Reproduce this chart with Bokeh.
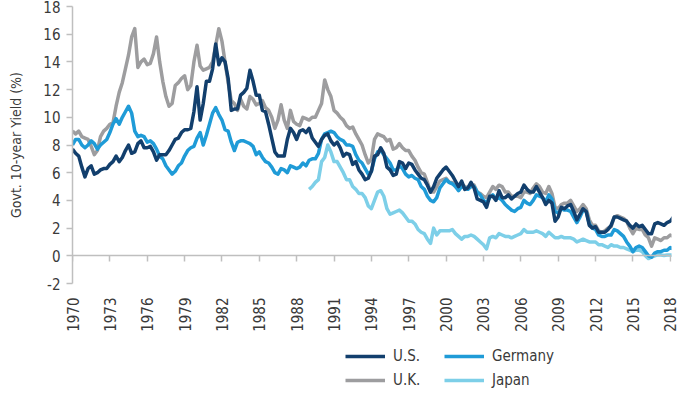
import math
from bokeh.plotting import figure
from bokeh.layouts import column
from bokeh.models import (Range1d, LinearAxis, FixedTicker, Legend, LegendItem,
                          ColumnDataSource)
from bokeh.embed import file_html
from bokeh.resources import INLINE

# ---------------- data (quarterly, Govt. 10-year yields, %) ----------------
start_year = 1970
tick_years = [1970, 1973, 1976, 1979, 1982, 1985, 1988, 1991, 1994, 1997,
              2000, 2003, 2006, 2009, 2012, 2015, 2018]
y_ticks = [-2, 0, 2, 4, 6, 8, 10, 12, 14, 16, 18]

us = [7.7, 7.4, 7.2, 6.4,   5.7, 6.3, 6.5, 5.9,   6.0, 6.2, 6.3, 6.3,   6.6, 6.8, 7.2, 6.8,
      7.1, 7.6, 8.0, 7.4,   7.5, 8.1, 8.3, 7.8,   7.8, 7.9, 7.5, 6.9,   7.3, 7.3, 7.3, 7.6,
      8.0, 8.4, 8.5, 8.9,   9.1, 9.1, 9.2, 10.4,  12.2, 9.8, 11.0, 12.6, 12.6, 13.5, 15.3, 13.8,
      14.3, 14.0, 12.8, 10.5, 10.6, 10.6, 11.6, 11.8, 12.1, 13.4, 12.6, 11.6, 11.6, 10.5, 10.4, 9.5,
      8.5, 7.5, 7.2, 7.2,   7.2, 8.4, 9.2, 8.9,   8.4, 9.0, 9.1, 8.9,   9.2, 8.5, 8.2, 7.9,
      8.4, 8.7, 8.8, 8.3,   8.0, 8.2, 7.8, 7.2,   7.4, 7.3, 6.6, 6.8,   6.2, 5.9, 5.5, 5.6,
      6.1, 7.2, 7.3, 7.8,   7.4, 6.4, 6.2, 5.8,   5.9, 6.8, 6.7, 6.3,   6.7, 6.6, 6.2, 5.9,
      5.6, 5.5, 5.1, 4.6,   5.0, 5.6, 5.9, 6.2,   6.4, 6.1, 5.8, 5.4,   5.0, 5.4, 4.8, 4.9,
      5.3, 4.9, 4.1, 4.0,   3.9, 3.5, 4.3, 4.3,   4.0, 4.7, 4.2, 4.2,   4.4, 4.1, 4.3, 4.5,
      4.6, 5.1, 4.8, 4.6,   4.6, 5.0, 4.6, 4.2,   3.7, 4.0, 3.8, 2.5,   2.8, 3.5, 3.4, 3.6,
      3.7, 3.2, 2.6, 3.0,   3.4, 3.2, 2.2, 2.0,   2.1, 1.7, 1.7, 1.7,   1.9, 2.2, 2.8, 2.8,
      2.7, 2.6, 2.5, 2.2,   2.0, 2.3, 2.1, 2.2,   1.9, 1.6, 1.6, 2.3,   2.4, 2.3, 2.2, 2.4,
      2.5, 2.8, 2.7]

uk = [9.0, 8.8, 9.0, 8.6,   8.5, 8.4, 7.9, 7.3,   7.6, 8.6, 9.0, 9.2,   9.5, 9.6, 10.8, 11.8,
      12.5, 13.5, 14.5, 15.8, 16.4, 13.6, 14.0, 14.2, 13.8, 13.9, 14.6, 15.8, 14.0, 12.6, 11.5, 10.8,
      11.0, 12.3, 12.5, 12.8, 13.0, 12.0, 12.3, 14.0, 15.2, 13.7, 13.4, 13.5, 13.6, 14.0, 15.2, 16.4,
      15.5, 14.0, 12.5, 11.2, 11.0, 10.5, 11.3, 10.8, 10.6, 11.5, 11.3, 10.9, 11.0, 11.2, 10.7, 10.5,
      10.0, 9.2, 9.8, 10.9,  9.8, 9.2, 10.5, 9.7,  9.5, 9.4, 10.0, 9.9,  9.8, 10.0, 10.0, 10.5,
      11.0, 12.7, 12.0, 11.5, 10.5, 10.3, 10.0, 9.8, 9.4, 9.2, 9.3, 8.8,  8.4, 8.0, 7.3, 6.7,
      7.0, 8.4, 8.8, 8.7,   8.6, 8.3, 8.4, 7.7,   7.8, 8.1, 7.8, 7.6,   7.6, 7.2, 6.9, 6.4,
      6.0, 5.9, 5.3, 4.6,   4.6, 5.0, 5.4, 5.5,   5.6, 5.3, 5.3, 5.0,   4.9, 5.2, 5.0, 4.9,
      5.0, 5.1, 4.6, 4.5,   4.3, 4.2, 4.6, 5.0,   4.8, 5.1, 5.0, 4.6,   4.6, 4.3, 4.3, 4.3,
      4.2, 4.6, 4.6, 4.5,   4.9, 5.2, 5.0, 4.6,   4.5, 5.0, 4.5, 3.5,   3.4, 3.7, 3.8, 3.8,
      4.0, 3.6, 3.2, 3.4,   3.7, 3.4, 2.6, 2.2,   2.2, 1.8, 1.7, 1.8,   2.0, 2.1, 2.8, 2.9,
      2.8, 2.7, 2.5, 2.0,   1.6, 2.0, 1.9, 1.9,   1.5, 1.3, 0.7, 1.3,   1.2, 1.1, 1.3, 1.3,
      1.5, 1.4, 1.5]

germany = [8.0, 8.4, 8.4, 8.0,   7.8, 8.0, 8.3, 8.1,   7.7, 8.0, 8.2, 8.4,   8.9, 9.5, 9.9, 9.5,
           10.0, 10.4, 10.8, 10.3, 9.0, 8.6, 8.7, 8.6,  8.2, 8.3, 8.1, 7.7,   7.2, 7.0, 6.5, 6.2,
           5.9, 6.1, 6.5, 6.7,   7.2, 7.6, 7.8, 7.9,   8.5, 8.9, 8.0, 8.7,   9.5, 10.3, 10.7, 10.2,
           9.8, 9.1, 9.0, 8.2,   7.6, 8.2, 8.3, 8.3,   8.2, 8.1, 7.9, 7.3,   7.5, 7.1, 6.8, 6.7,
           6.4, 6.0, 5.9, 6.3,   6.2, 6.0, 6.5, 6.4,   6.3, 6.4, 6.7, 6.5,   6.9, 7.0, 7.0, 7.4,
           8.4, 8.8, 8.9, 9.0,   8.9, 8.6, 8.4, 8.3,   8.0, 8.0, 7.9, 7.3,   6.9, 6.7, 6.3, 5.9,
           6.1, 7.0, 7.5, 7.6,   7.3, 7.0, 6.7, 6.2,   6.2, 6.5, 6.3, 5.9,   5.7, 5.8, 5.6, 5.5,
           5.0, 4.8, 4.3, 4.0,   3.9, 4.2, 4.9, 5.2,   5.5, 5.3, 5.2, 5.0,   4.7, 5.0, 4.9, 4.8,
           5.0, 5.0, 4.6, 4.4,   4.0, 3.8, 4.2, 4.4,   4.1, 4.2, 4.0, 3.7,   3.5, 3.3, 3.2, 3.4,
           3.5, 4.0, 3.8, 3.7,   4.0, 4.4, 4.3, 4.2,   3.9, 4.4, 4.1, 3.2,   3.1, 3.4, 3.3, 3.3,
           3.2, 2.8, 2.4, 2.8,   3.3, 3.2, 2.3, 2.0,   1.9, 1.5, 1.4, 1.4,   1.5, 1.5, 1.9, 1.8,
           1.6, 1.4, 1.0, 0.7,   0.3, 0.6, 0.7, 0.6,   0.3, 0.0, -0.1, 0.2,  0.3, 0.3, 0.4, 0.4,
           0.6, 0.5, 0.6]

japan_start = 1989
japan = [4.8, 5.0, 5.3, 5.5,   6.8, 7.1, 8.0, 7.5,   6.8, 6.8, 6.4, 6.0,   5.5, 5.5, 5.0, 4.8,
         4.5, 4.5, 4.2, 3.6,   3.4, 4.0, 4.6, 4.7,   4.3, 3.4, 3.0, 3.1,   3.2, 3.3, 3.1, 2.8,
         2.5, 2.5, 2.3, 1.9,   1.7, 1.6, 1.2, 0.9,   2.0, 1.5, 1.8, 1.8,   1.8, 1.8, 1.9, 1.6,
         1.4, 1.2, 1.4, 1.4,   1.5, 1.4, 1.2, 1.0,   0.8, 0.5, 1.3, 1.4,   1.3, 1.6, 1.5, 1.4,
         1.4, 1.3, 1.4, 1.5,   1.6, 1.9, 1.7, 1.7,   1.7, 1.8, 1.7, 1.6,   1.4, 1.7, 1.5, 1.3,
         1.3, 1.4, 1.3, 1.3,   1.3, 1.2, 1.0, 1.1,   1.2, 1.1, 1.0, 1.0,   1.0, 0.8, 0.8, 0.7,
         0.6, 0.8, 0.7, 0.7,   0.6, 0.6, 0.5, 0.4,   0.3, 0.4, 0.4, 0.3,   0.0, -0.2, -0.1, 0.0,
         0.07, 0.05, 0.03, 0.05, 0.06, 0.04, 0.05]

legend_rows = [["U.S.", "Germany"], ["U.K.", "Japan"]]
colors = {"U.S.": "#123f6d", "Germany": "#1f9bd7", "U.K.": "#9d9d9f", "Japan": "#7dcfe8"}


def quarters(first_year, n):
    return [first_year + i * 0.25 for i in range(n)]


sources = {
    "U.S.": ColumnDataSource(dict(x=quarters(start_year, len(us)), y=us)),
    "U.K.": ColumnDataSource(dict(x=quarters(start_year, len(uk)), y=uk)),
    "Germany": ColumnDataSource(dict(x=quarters(start_year, len(germany)), y=germany)),
    "Japan": ColumnDataSource(dict(x=quarters(japan_start, len(japan)), y=japan)),
}

FONT = "DejaVu Sans Condensed"
TXT = "#3a3a3a"
AX = "#bfbfbf"
LINE_W = 3.5

p = figure(frame_width=599, frame_height=277, x_range=Range1d(1970, 2018.1),
           y_range=Range1d(-2, 18),
           output_backend="svg", toolbar_location=None,
           min_border_left=72, min_border_right=8, min_border_top=6, min_border_bottom=62)
p.outline_line_color = None
p.grid.visible = False
p.background_fill_color = "white"
p.border_fill_color = "white"

# x axis line at y = 0 with tick marks (no labels)
xa = p.xaxis[0]
xa.fixed_location = 0
xa.ticker = FixedTicker(ticks=tick_years)
xa.axis_line_color = AX
xa.axis_line_width = 1.5
xa.major_tick_line_color = AX
xa.major_tick_line_width = 1.5
xa.major_tick_in = 0
xa.major_tick_out = 6
xa.minor_tick_line_color = None
xa.major_label_text_font_size = "0px"
xa.major_label_text_color = None

# year labels below the plot
xl = LinearAxis(ticker=FixedTicker(ticks=tick_years))
xl.axis_line_color = None
xl.major_tick_line_color = None
xl.minor_tick_line_color = None
xl.major_label_orientation = math.pi / 2
xl.major_label_standoff = 8
xl.major_label_text_font = FONT
xl.major_label_text_font_size = "15px"
xl.major_label_text_color = TXT
p.add_layout(xl, "below")

ya = p.yaxis[0]
ya.ticker = FixedTicker(ticks=y_ticks)
ya.major_label_overrides = {-2: "-2"}
ya.axis_line_color = AX
ya.axis_line_width = 1.5
ya.major_tick_line_color = AX
ya.major_tick_line_width = 1.5
ya.major_tick_in = 0
ya.major_tick_out = 6
ya.minor_tick_line_color = None
ya.major_label_text_font = FONT
ya.major_label_text_font_size = "15px"
ya.major_label_text_color = TXT
ya.major_label_standoff = 6
ya.axis_label = "Govt. 10-year Yield (%)"
ya.axis_label_text_font = FONT
ya.axis_label_text_font_size = "14px"
ya.axis_label_text_font_style = "normal"
ya.axis_label_text_color = TXT
ya.axis_label_standoff = 16

for name in ["U.K.", "Japan", "Germany", "U.S."]:
    p.line("x", "y", source=sources[name], line_color=colors[name],
           line_width=LINE_W, line_join="round")

# ---- legend strip below the chart (separate small figure without axes) ----
leg_h = 389 - (6 + 277 + 62)
pl = figure(width=679, height=leg_h, x_range=Range1d(0, 1), y_range=Range1d(0, 1),
            x_axis_location=None, y_axis_location=None,
            output_backend="svg", toolbar_location=None,
            min_border_left=0, min_border_right=0, min_border_top=0, min_border_bottom=0)
pl.grid.visible = False
pl.outline_line_color = None
pl.background_fill_color = "white"
pl.border_fill_color = "white"

# legend-only renderers: the same series, drawn outside the strip's visible range
legend_renderers = {}
for name in colors:
    legend_renderers[name] = pl.line("x", "y", source=sources[name],
                                     line_color=colors[name], line_width=LINE_W)

for row, ypos in zip(legend_rows, [leg_h - 20, 0]):
    lg = Legend(items=[LegendItem(label=n, renderers=[legend_renderers[n]]) for n in row],
                orientation="horizontal", location=(273, ypos))
    lg.border_line_color = None
    lg.background_fill_alpha = 0
    lg.label_text_font = FONT
    lg.label_text_font_size = "15px"
    lg.label_text_color = TXT
    lg.glyph_width = 40
    lg.glyph_height = 18
    lg.label_height = 18
    lg.label_width = 44
    lg.spacing = 7
    lg.label_standoff = 8
    lg.padding = 0
    lg.margin = 0
    pl.add_layout(lg, "center")

layout = column(p, pl, spacing=0)
open("out.html", "w").write(file_html(layout, INLINE))
